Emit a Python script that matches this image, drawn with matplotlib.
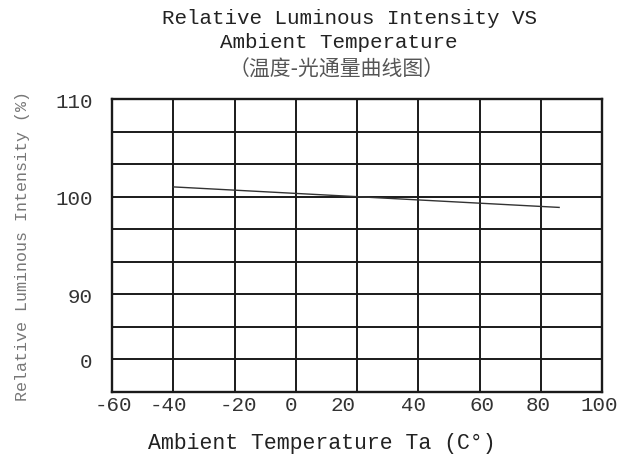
import matplotlib.pyplot as plt
import numpy as np

# grid columns (deg C) and rows
x_grid = [-60, -40, -20, 0, 20, 40, 60, 80, 100]
row_step = 10 / 3
y_bottom, y_top = 80, 110

# tick labels as printed (they sit a little off the grid lines)
x_labels = ["-60", "-40", "-20", "0", "20", "40", "60", "80", "100"]
x_label_pos = [-59.7, -41.7, -18.8, -1.4, 15.3, 38.5, 60.8, 79.1, 99.1]
y_labels = ["110", "100", "90", "0"]
y_label_pos = [110, 100, 90, 83.33]

# curve
temp = [-40, 86]
intensity = [101.0, 98.9]

mono = "Liberation Mono"
cjk = ["Noto Sans CJK SC", "DejaVu Sans"]

fig = plt.figure(figsize=(6.34, 4.60), dpi=100)
ax = fig.add_axes([112 / 634, 1 - 393 / 460, 490 / 634, 293 / 460])

ax.set_xlim(x_grid[0], x_grid[-1])
ax.set_ylim(y_bottom, y_top)

# grid lines
for x in x_grid[1:-1]:
    ax.axvline(x, color="#1a1a1a", lw=1.4)
for y in np.arange(1, 9) * row_step + y_bottom:
    ax.axhline(y, color="#1a1a1a", lw=1.4)
for s in ax.spines.values():
    s.set_color("#1a1a1a")
    s.set_linewidth(1.7)

ax.plot(temp, intensity, color="#333333", lw=1.0)

ax.set_xticks(x_label_pos, x_labels)
ax.set_yticks(y_label_pos, y_labels)
ax.tick_params(length=0)
for lab in ax.get_xticklabels() + ax.get_yticklabels():
    lab.set_fontfamily(mono)
    lab.set_fontsize(15)
    lab.set_color("#333333")
ax.tick_params(axis="x", pad=2)
ax.tick_params(axis="y", pad=14)

ax.set_xlabel("Ambient Temperature Ta (C°)", fontfamily=mono, fontsize=15.5,
              color="#222222", labelpad=14)
ax.xaxis.set_label_coords((322 - 112) / 490, -0.135)
ax.set_ylabel("Relative Luminous Intensity (%)", fontfamily=mono, fontsize=12,
              color="#777777")
ax.yaxis.set_label_coords(-0.168, 0.5)

fig.text(350 / 634, 1 - 18 / 460, "Relative Luminous Intensity VS",
         fontfamily=mono, fontsize=15, color="#222222", ha="center", va="center")
fig.text(339 / 634, 1 - 42 / 460, "Ambient Temperature",
         fontfamily=mono, fontsize=15, color="#222222", ha="center", va="center")
fig.text(337 / 634, 1 - 70 / 460, "（温度-光通量曲线图）",
         fontfamily=cjk, fontsize=15, color="#555555", ha="center", va="center")

fig.savefig("out.png", dpi=100, facecolor="white")
